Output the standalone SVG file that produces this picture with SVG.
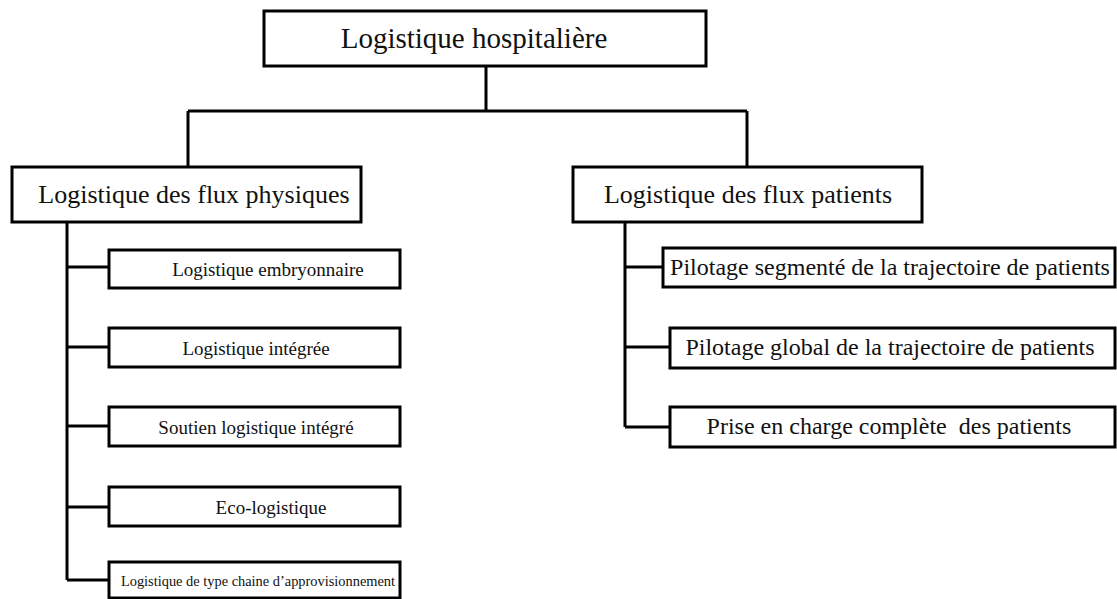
<svg xmlns="http://www.w3.org/2000/svg" width="1117" height="599" viewBox="0 0 1117 599">
<style>
.box{fill:#fff;stroke:#000;stroke-width:3}
.ln{fill:none;stroke:#000;stroke-width:3}
text{font-family:"Liberation Serif","Times New Roman",serif;fill:#111;text-anchor:middle}
.t0{font-size:29px}
.t1{font-size:26px}
.t2{font-size:19px}
.t3{font-size:24px}
.t4{font-size:14.4px}
</style>
<rect width="1117" height="599" fill="#fff"/>
<g id="connectors">
<path class="ln" d="M486 66V111M188 111H747M188 111V167M747 111V167"/>
<path class="ln" d="M67 222V580M67 267H109M67 347H109M67 426H109M67 507H109M67 580H109"/>
<path class="ln" d="M625 222V427M625 267H663M625 347H670M625 427H670"/>
</g>
<g id="n-root"><rect class="box" x="264" y="11" width="442" height="55"/><text class="t0" x="474" y="48">Logistique hospitalière</text></g>
<g id="n-phys"><rect class="box" x="12" y="167" width="349" height="55"/><text class="t1" x="194" y="203">Logistique des flux physiques</text></g>
<g id="n-pat"><rect class="box" x="573" y="167" width="349" height="55"/><text class="t1" x="748" y="203">Logistique des flux patients</text></g>
<g id="n-embryo"><rect class="box" x="109" y="250" width="291" height="38"/><text class="t2" x="268" y="276">Logistique embryonnaire</text></g>
<g id="n-integ"><rect class="box" x="109" y="328" width="291" height="39"/><text class="t2" x="256" y="355">Logistique intégrée</text></g>
<g id="n-soutien"><rect class="box" x="109" y="407" width="291" height="39"/><text class="t2" x="256" y="434">Soutien logistique intégré</text></g>
<g id="n-eco"><rect class="box" x="109" y="487" width="291" height="39"/><text class="t2" x="271" y="514">Eco-logistique</text></g>
<g id="n-chaine"><rect class="box" x="109" y="562" width="291" height="36"/><text class="t4" x="258" y="586">Logistique de type chaine d’approvisionnement</text></g>
<g id="n-segm"><rect class="box" x="663" y="248" width="452" height="39"/><text class="t3" x="890" y="275">Pilotage segmenté de la trajectoire de patients</text></g>
<g id="n-global"><rect class="box" x="670" y="328" width="445" height="40"/><text class="t3" x="890" y="355">Pilotage global de la trajectoire de patients</text></g>
<g id="n-prise"><rect class="box" x="670" y="407" width="445" height="40"/><text class="t3" x="889" y="434" xml:space="preserve">Prise en charge complète  des patients</text></g>
</svg>
